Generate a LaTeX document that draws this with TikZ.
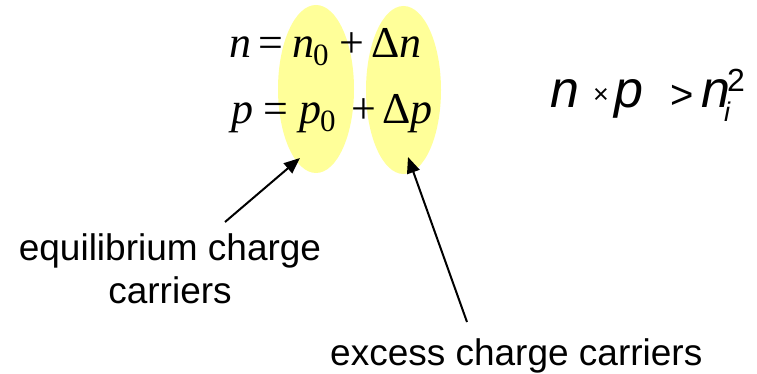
\documentclass[tikz,border=0pt]{standalone}
\usepackage{fontspec}
\setmainfont{Liberation Serif}
\setsansfont{Liberation Sans}
\usetikzlibrary{shapes.geometric,arrows.meta}
\definecolor{hl}{HTML}{FFFF99}
\begin{document}
\begin{tikzpicture}[x=1pt,y=-1pt,
  hlell/.style={ellipse,fill=hl,draw=none,inner sep=0pt},
  eq/.style={anchor=base west,inner sep=0pt,font=\fontsize{44}{44}\selectfont},
  rq/.style={anchor=base west,inner sep=0pt,font=\fontsize{52}{52}\sffamily\itshape},
  lbl/.style={inner sep=0pt,align=center,font=\fontsize{37}{43}\sffamily},
  arr/.style={line width=2pt,-{Triangle[length=16pt,width=13pt]}}]
\useasboundingbox (0,0) rectangle (757,374);
\node[hlell,minimum width=76pt,minimum height=168pt] (e1) at (316,89) {};
\node[hlell,minimum width=75pt,minimum height=168pt] (e2) at (403.5,90) {};
% line 1
\node[eq] (a1) at (229,58) {\itshape n};
\node[eq] (a2) at (258,58) {=};
\node[eq] (a3) at (292,58) {\itshape n\kern-1pt\raisebox{-8pt}{\fontsize{31}{31}\selectfont\upshape 0}};
\node[eq] (a4) at (339,58) {+};
\node[eq] (a5) at (371,58) {Δ\itshape n};
% line 2
\node[eq] (b1) at (231,124) {\itshape p};
\node[eq] (b2) at (263,124) {=};
\node[eq] (b3) at (299,124) {\itshape p\kern-1pt\raisebox{-8pt}{\fontsize{31}{31}\selectfont\upshape 0}};
\node[eq] (b4) at (351,124) {+};
\node[eq] (b5) at (382,124) {Δ\itshape p};
% right equation
\node[rq] (r1) at (550,108) {n};
\node[anchor=base west,inner sep=0pt,font=\fontsize{27}{27}\sffamily] (r2) at (593,104) {×};
\node[rq] (r3) at (614,108) {p};
\node[anchor=base west,inner sep=0pt,font=\fontsize{40}{40}\sffamily] (r4) at (670,109) {>};
\node[rq] (r5) at (701,108) {n};
\node[anchor=base west,inner sep=0pt,font=\fontsize{27}{27}\sffamily\itshape] (r6) at (724,122) {i};
\node[anchor=base west,inner sep=0pt,font=\fontsize{32}{32}\sffamily] (r7) at (727,92) {2};
% labels
\node[lbl,anchor=base] (l1) at (170,303) {equilibrium charge\\carriers};
\node[lbl,anchor=base west] (l2) at (330,365) {excess charge carriers};
\coordinate (s1) at (225,222);
\coordinate (t1) at (300,158);
\coordinate (s2) at (467,322);
\coordinate (t2) at (408,157);
\draw[arr] (s1) -- (t1);
\draw[arr] (s2) -- (t2);
\end{tikzpicture}
\end{document}
